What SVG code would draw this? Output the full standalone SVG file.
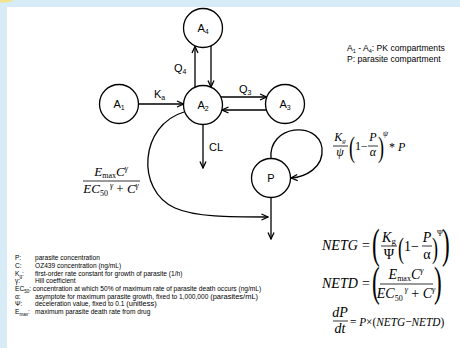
<svg xmlns="http://www.w3.org/2000/svg" width="460" height="348" viewBox="0 0 460 348">
<style>
.bg{fill:#ffffff}
.band{fill:#d7ecf6}
.node circle{fill:#ffffff;stroke:#000;stroke-width:1.3}
.lbl{font-family:"Liberation Sans",Arial,sans-serif;font-size:11px;fill:#000}
.sub{font-size:7px}
.conn path,.conn line{fill:none;stroke:#000;stroke-width:1.3}
.m{font-family:"Liberation Serif","Times New Roman",serif;fill:#000}
.it{font-style:italic}
.fl{stroke:#000;stroke-width:0.8}
.leg{font-family:"Liberation Sans",Arial,sans-serif;font-size:6.6px;fill:#000}
.leg2{font-family:"Liberation Sans",Arial,sans-serif;font-size:8.6px;fill:#000}
</style>
<defs>
<marker id="ah" viewBox="0 0 8 8" refX="7.5" refY="4" markerWidth="8" markerHeight="8" orient="auto" markerUnits="userSpaceOnUse">
<path d="M1,1 L7.5,4 L1,7" fill="none" stroke="#000" stroke-width="1.3"/>
</marker>
</defs>
<rect class="bg" x="0" y="0" width="460" height="348"/>
<rect class="band" x="0" y="0" width="460" height="7"/>
<rect class="band" x="0" y="0" width="7" height="348"/>
<ellipse cx="4" cy="0" rx="9" ry="2.5" fill="#f1e48a"/>

<g class="conn" id="connectors">
<line x1="138.5" y1="104" x2="183.5" y2="104" marker-end="url(#ah)"/>
<line x1="195" y1="87" x2="195" y2="46.5" marker-end="url(#ah)"/>
<line x1="211" y1="46" x2="211" y2="87" marker-end="url(#ah)"/>
<line x1="221" y1="97" x2="266.5" y2="97" marker-end="url(#ah)"/>
<line x1="266.5" y1="110" x2="222" y2="110" marker-end="url(#ah)"/>
<line x1="203" y1="124.5" x2="203" y2="168" marker-end="url(#ah)"/>
<path d="M184,112 C140,125 135,190 175,208 C195,217 230,217 268,217" marker-end="url(#ah)"/>
<path d="M271,158.5 C268,125 318,120 322,148 C324,168 305,177 291,178" marker-end="url(#ah)"/>
<line x1="271" y1="197.5" x2="271" y2="239" marker-end="url(#ah)"/>
<text class="lbl" x="154" y="98">K<tspan class="sub" dy="2">a</tspan></text>
<text class="lbl" x="174" y="72">Q<tspan class="sub" dy="2">4</tspan></text>
<text class="lbl" x="239" y="93">Q<tspan class="sub" dy="2">3</tspan></text>
<text class="lbl" x="209" y="151">CL</text>
</g>

<g class="node" id="A1"><circle cx="119" cy="104" r="19.5"/><text class="lbl" x="119" y="108" text-anchor="middle">A<tspan class="sub" dy="2">1</tspan></text></g>
<g class="node" id="A2"><circle cx="203" cy="105" r="19.5"/><text class="lbl" x="203" y="109" text-anchor="middle">A<tspan class="sub" dy="2">2</tspan></text></g>
<g class="node" id="A3"><circle cx="285" cy="104" r="19.5"/><text class="lbl" x="285" y="108" text-anchor="middle">A<tspan class="sub" dy="2">3</tspan></text></g>
<g class="node" id="A4"><circle cx="203" cy="28" r="19.5"/><text class="lbl" x="203" y="32" text-anchor="middle">A<tspan class="sub" dy="2">4</tspan></text></g>
<g class="node" id="P"><circle cx="271" cy="178" r="19.5"/><text class="lbl" x="271" y="182" text-anchor="middle">P</text></g>

<g id="legend-top">
<text class="leg2" x="347" y="51">A<tspan style="font-size:5.5px" dy="2">1</tspan><tspan dy="-2"> - A</tspan><tspan style="font-size:5.5px" dy="2">4</tspan><tspan dy="-2">:  PK compartments</tspan></text>
<text class="leg2" x="347" y="62">P: parasite compartment</text>
</g>

<g id="formula-left">
<text class="m" style="font-size:13px" x="111" y="176" text-anchor="middle"><tspan class="it">E</tspan><tspan style="font-size:8px" dy="2">max</tspan><tspan class="it" dy="-2">C</tspan><tspan class="it" style="font-size:8px" dy="-5">γ</tspan></text>
<line class="fl" x1="83" y1="181" x2="140" y2="181"/>
<text class="m" style="font-size:13px" x="111" y="193" text-anchor="middle"><tspan class="it">EC</tspan><tspan style="font-size:8px" dy="3">50</tspan><tspan class="it" style="font-size:8px" dy="-8"> γ</tspan><tspan dy="5"> + </tspan><tspan class="it">C</tspan><tspan class="it" style="font-size:8px" dy="-5">γ</tspan></text>
</g>

<g id="formula-growth">
<text class="m" style="font-size:12px" x="340" y="141" text-anchor="middle"><tspan class="it">K</tspan><tspan class="it" style="font-size:7px" dy="2">g</tspan></text>
<line class="fl" x1="333" y1="146" x2="348" y2="146"/>
<text class="m it" style="font-size:12px" x="340" y="156" text-anchor="middle">ψ</text>
<text class="m" style="font-size:30px" transform="translate(349,157) scale(0.6,1)">(</text>
<text class="m" style="font-size:12px" x="355" y="150">1−</text>
<text class="m it" style="font-size:12px" x="373" y="141" text-anchor="middle">P</text>
<line class="fl" x1="368" y1="146" x2="378" y2="146"/>
<text class="m it" style="font-size:12px" x="373" y="156" text-anchor="middle">α</text>
<text class="m" style="font-size:30px" transform="translate(378,157) scale(0.6,1)">)</text>
<text class="m it" style="font-size:8px" x="383" y="136">ψ</text>
<text class="m" style="font-size:12px" x="389" y="151">* <tspan class="it">P</tspan></text>
</g>

<g id="eq-netg">
<text class="m it" style="font-size:14px" x="322" y="250">NETG</text>
<text class="m" style="font-size:14px" x="362" y="250">=</text>
<text class="m" style="font-size:42px" transform="translate(372,258) scale(0.55,1)">(</text>
<text class="m" style="font-size:14px" x="389" y="242" text-anchor="middle"><tspan class="it">K</tspan><tspan style="font-size:9px" dy="2">g</tspan></text>
<line class="fl" x1="381" y1="246" x2="397" y2="246"/>
<text class="m" style="font-size:14px" x="389" y="259" text-anchor="middle">Ψ</text>
<text class="m" style="font-size:30px" transform="translate(398,258) scale(0.6,1)">(</text>
<text class="m" style="font-size:14px" x="404" y="251">1−</text>
<text class="m it" style="font-size:14px" x="427" y="242" text-anchor="middle">P</text>
<line class="fl" x1="422" y1="246" x2="432" y2="246"/>
<text class="m" style="font-size:14px" x="427" y="259" text-anchor="middle">α</text>
<text class="m" style="font-size:30px" transform="translate(432,258) scale(0.6,1)">)</text>
<text class="m" style="font-size:8px" x="437" y="236">Ψ</text>
<text class="m" style="font-size:42px" transform="translate(442,258) scale(0.55,1)">)</text>
</g>

<g id="eq-netd">
<text class="m it" style="font-size:14px" x="322" y="288">NETD</text>
<text class="m" style="font-size:14px" x="362" y="288">=</text>
<text class="m" style="font-size:42px" transform="translate(372,296) scale(0.55,1)">(</text>
<text class="m" style="font-size:14px" x="406" y="279" text-anchor="middle"><tspan class="it">E</tspan><tspan style="font-size:8px" dy="2">max</tspan><tspan class="it" dy="-2">C</tspan><tspan class="it" style="font-size:8px" dy="-6">γ</tspan></text>
<line class="fl" x1="380" y1="284" x2="433" y2="284"/>
<text class="m" style="font-size:14px" x="406" y="298" text-anchor="middle"><tspan class="it">EC</tspan><tspan style="font-size:8px" dy="3">50</tspan><tspan class="it" style="font-size:8px" dy="-9"> γ</tspan><tspan dy="6"> + </tspan><tspan class="it">C</tspan><tspan class="it" style="font-size:8px" dy="-6">γ</tspan></text>
<text class="m" style="font-size:42px" transform="translate(434,296) scale(0.55,1)">)</text>
</g>

<g id="eq-dpdt">
<text class="m it" style="font-size:14px" x="340" y="317" text-anchor="middle">dP</text>
<line class="fl" x1="333" y1="321" x2="348" y2="321"/>
<text class="m it" style="font-size:14px" x="340" y="333" text-anchor="middle">dt</text>
<text class="m" style="font-size:13px" transform="translate(350,326) scale(0.87,1)">= <tspan class="it">P</tspan>×(<tspan class="it">NETG</tspan>−<tspan class="it">NETD</tspan>)</text>
</g>

<g id="legend-bottom">
<text class="leg" x="15" y="260">P:</text><text class="leg" x="35" y="260">parasite concentration</text>
<text class="leg" x="15" y="268">C:</text><text class="leg" x="35" y="268">OZ439 concentration (ng/mL)</text>
<text class="leg" x="15" y="276">K<tspan style="font-size:4.5px" dy="1.5">g</tspan><tspan dy="-1.5">:</tspan></text><text class="leg" x="35" y="276">first-order rate constant for growth of parasite (1/h)</text>
<text class="leg" x="15" y="283">γ:</text><text class="leg" x="35" y="283">Hill coefficient</text>
<text class="leg" x="15" y="291">EC<tspan style="font-size:4.5px" dy="1.5">50</tspan><tspan dy="-1.5">: concentration at which 50% of maximum rate of parasite death occurs (ng/mL)</tspan></text>
<text class="leg" x="15" y="299">α:</text><text class="leg" x="35" y="299">asymptote for maximum parasite growth, fixed to 1,000,000  <tspan style="font-size:7.5px">(parasites/mL)</tspan></text>
<text class="leg" x="15" y="306">Ψ:</text><text class="leg" x="35" y="306">deceleration value, fixed to 0.1 <tspan style="font-size:7.5px">(unitless)</tspan></text>
<text class="leg" x="15" y="314">E<tspan style="font-size:4.5px" dy="1.5">max</tspan><tspan dy="-1.5">:</tspan></text><text class="leg" x="35" y="314">maximum parasite death rate from drug</text>
</g>
</svg>
